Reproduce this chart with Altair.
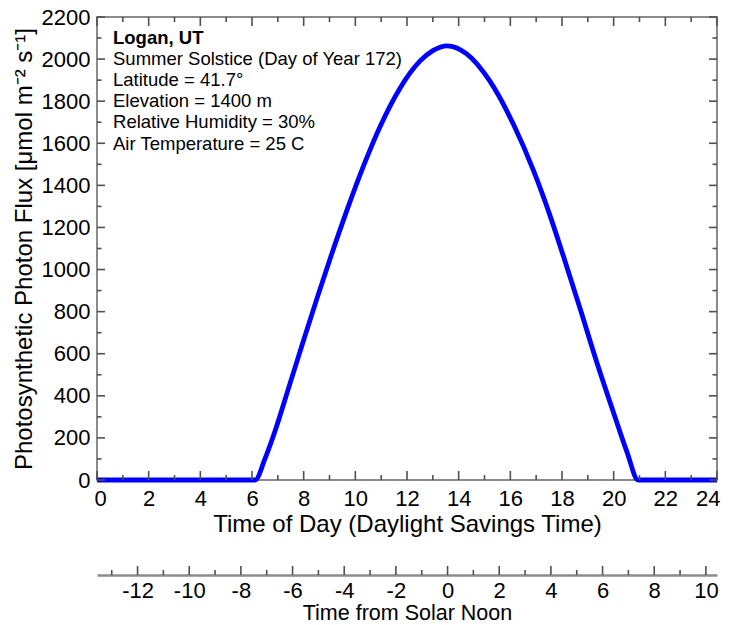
import altair as alt
import pandas as pd

# ---- data ----
hours = [0, 2, 4, 6.0, 6.12, 6.5, 6.83, 7.47, 8.0, 8.5, 9.02, 9.67, 10.31, 10.96, 11.73,
         12.5, 13.0, 13.55, 14.31, 15.21, 16.12, 16.89, 17.54, 18.05, 18.7, 19.34,
         19.99, 20.51, 20.95, 22, 24]
ppfd = [0, 0, 0, 0, 0, 100, 210, 458, 665, 857, 1050, 1280, 1490, 1680, 1862,
        1990, 2040, 2063, 2025, 1895, 1690, 1472, 1255, 1065, 815, 562,
        322, 135, 0, 0, 0]

x_major = list(range(0, 25, 2))
x_minor = list(range(1, 24, 2))
y_major = list(range(0, 2201, 200))
y_minor = list(range(100, 2200, 200))
solar_domain = [-13.57, 10.43]          # solar time at 0 h and 24 h of the day axis
solar_major = list(range(-12, 11, 2))
solar_minor = list(range(-13, 10, 2))

title_note = ["Logan, UT"]
title_note_y = [2100]
notes = ["Summer Solstice (Day of Year 172)", "Latitude = 41.7°",
         "Elevation = 1400 m", "Relative Humidity = 30%", "Air Temperature = 25 C"]
note_y = [2000, 1900, 1800, 1700, 1598]
note_x = 0.62

FONT = "Liberation Sans"
TICK = "#505050"
W, H = 620, 463
SOL_OFF = 95

df = pd.DataFrame({"hour": hours, "ppfd": ppfd})
df_title_note = pd.DataFrame({"text": title_note, "y": title_note_y, "x": [note_x]})
df_notes = pd.DataFrame({"text": notes, "y": note_y, "x": [note_x] * len(notes)})


def xs():
    return alt.Scale(domain=[0, 24], nice=False, zero=False)


def ys():
    return alt.Scale(domain=[0, 2200], nice=False, zero=False)


def sol_scale():
    return alt.Scale(domain=solar_domain, nice=False, zero=False)


def label_axis(orient, values, title, pad, tpad, fs=22, tfs=24, flush=False):
    return alt.Axis(orient=orient, values=values, ticks=False, domain=False, grid=False,
                    labelFont=FONT, labelFontSize=fs, labelColor="black", labelPadding=pad,
                    labelExpr="'' + datum.value", labelFlush=flush, labelFlushOffset=3,
                    labelOverlap=False,
                    title=title, titleFont=FONT, titleFontSize=tfs, titleFontWeight="normal",
                    titleColor="black", titlePadding=tpad)


line = alt.Chart(df).mark_line(color="#0000ff", strokeWidth=4.8, interpolate="monotone").encode(
    x=alt.X("hour:Q", scale=xs(),
            axis=label_axis("bottom", x_major, "Time of Day (Daylight Savings Time)", 8, 3,
                            flush=True)),
    y=alt.Y("ppfd:Q", scale=ys(),
            axis=label_axis("left", y_major, "Photosynthetic Photon Flux [μmol m⁻² s⁻¹]", 7, 5)),
)


def xticks(values, y0, y1, scale=None):
    d = pd.DataFrame({"v": values})
    return alt.Chart(d).mark_rule(color=TICK, strokeWidth=1.6).encode(
        x=alt.X("v:Q", scale=scale if scale is not None else xs(), axis=None),
        y=alt.value(y0), y2=alt.value(y1),
    )


def yticks(values, x0, x1):
    d = pd.DataFrame({"v": values})
    return alt.Chart(d).mark_rule(color=TICK, strokeWidth=1.6).encode(
        y=alt.Y("v:Q", scale=ys(), axis=None),
        x=alt.value(x0), x2=alt.value(x1),
    )


tick_layers = [
    xticks(x_major, H, H - 9), xticks(x_minor, H, H - 5),
    xticks(x_major, 0, 9), xticks(x_minor, 0, 5),
    yticks(y_major, 0, 8), yticks(y_minor, 0, 4.5),
    yticks(y_major, W, W - 8), yticks(y_minor, W, W - 4.5),
    xticks(solar_major, H + SOL_OFF, H + SOL_OFF - 9, sol_scale()),
    xticks(solar_minor, H + SOL_OFF, H + SOL_OFF - 5, sol_scale()),
]

text_bold = alt.Chart(df_title_note).mark_text(
    align="left", baseline="middle", font=FONT, fontSize=18.5, fontWeight="bold", color="black"
).encode(
    x=alt.X("x:Q", scale=xs(), axis=None),
    y=alt.Y("y:Q", scale=ys(), axis=None),
    text="text:N",
)
text = alt.Chart(df_notes).mark_text(
    align="left", baseline="middle", font=FONT, fontSize=18.5, color="black"
).encode(
    x=alt.X("x:Q", scale=xs(), axis=None),
    y=alt.Y("y:Q", scale=ys(), axis=None),
    text="text:N",
)

solar_axis_layer = alt.Chart(pd.DataFrame({"s": solar_major})).mark_point(opacity=0).encode(
    x=alt.X("s:Q", scale=sol_scale(),
            axis=alt.Axis(orient="bottom", values=solar_major, offset=SOL_OFF, ticks=False,
                          domain=True, domainColor="#8c8c8c", domainWidth=2.7, grid=False,
                          labelFont=FONT, labelFontSize=22, labelColor="black", labelPadding=5,
                          labelExpr="'' + datum.value", labelFlush=False, labelOverlap=False,
                          title="Time from Solar Noon", titleFont=FONT, titleFontSize=21.5,
                          titleFontWeight="normal", titleColor="black", titlePadding=1)),
    y=alt.value(0),
)

chart = alt.layer(
    line, *tick_layers, text_bold, text, solar_axis_layer
).resolve_scale(x="independent", y="independent").properties(
    width=W, height=H,
    autosize=alt.AutoSizeParams(type="none"),
    padding={"left": 89, "top": 9, "right": 5, "bottom": 145},
    background="white",
).configure_view(stroke="#666666", strokeWidth=1.5)

chart.save("out.html", embed_options={"renderer": "svg", "actions": False})
